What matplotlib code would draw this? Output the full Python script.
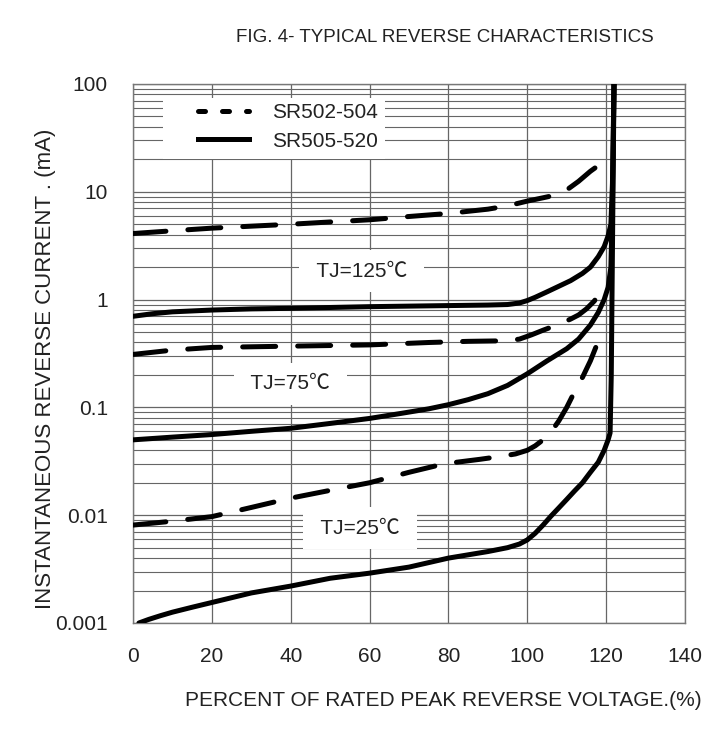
import matplotlib
matplotlib.use("Agg")
import matplotlib.pyplot as plt
from matplotlib.lines import Line2D
from matplotlib.patches import Rectangle
from matplotlib.ticker import LogLocator, NullFormatter, FixedLocator

plt.rcParams['font.family'] = ['Liberation Sans', 'Noto Sans CJK SC', 'DejaVu Sans']

# ---- data ----
x_ticks = [0, 20, 40, 60, 80, 100, 120, 140]
y_ticks = [0.001, 0.01, 0.1, 1, 10, 100]
y_tick_labels = ["0.001", "0.01", "0.1", "1", "10", "100"]

# SR505-520 (solid)
s125_x = [0, 5, 10, 20, 30, 40, 60, 80, 90, 95, 98, 100, 102, 105, 108, 111, 114, 116, 118,
          119.5, 120.5, 121.2, 121.6, 122]
s125_y = [0.70, 0.74, 0.77, 0.80, 0.82, 0.83, 0.86, 0.88, 0.89, 0.90, 0.93, 0.98, 1.05, 1.18,
          1.33, 1.5, 1.75, 2.0, 2.5, 3.1, 3.9, 5, 12, 100]

s75_x = [0, 10, 20, 30, 40, 50, 60, 68, 75, 80, 85, 90, 95, 100, 105, 110, 113, 116, 118,
         119.5, 120.5, 121.2, 121.6, 122]
s75_y = [0.050, 0.053, 0.056, 0.060, 0.064, 0.071, 0.079, 0.088, 0.097, 0.106, 0.118, 0.134,
         0.16, 0.205, 0.27, 0.35, 0.43, 0.58, 0.76, 1.0, 1.3, 2, 8, 100]

s25_x = [1.5, 4, 7, 10, 15, 20, 30, 40, 50, 60, 70, 80, 90, 95, 98, 100, 102, 104, 106, 108,
         110, 112, 114, 116, 118, 119.5, 120.5, 121, 121.3, 121.6, 122]
s25_y = [0.001, 0.00108, 0.00117, 0.00126, 0.0014, 0.00155, 0.0019, 0.0022, 0.0026, 0.0029,
         0.0033, 0.0040, 0.0046, 0.0050, 0.0054, 0.0059, 0.0068, 0.0081, 0.0098, 0.0117, 0.014,
         0.0168, 0.020, 0.025, 0.031, 0.040, 0.050, 0.058, 0.2, 3, 100]

# SR502-504 (dashed)
d125_x = [0, 10, 20, 30, 40, 50, 60, 70, 80, 90, 95, 100, 104, 107, 110, 113, 116, 118, 120]
d125_y = [4.1, 4.35, 4.6, 4.8, 5.0, 5.25, 5.5, 5.9, 6.3, 6.9, 7.4, 8.2, 8.8, 9.3, 10.4, 12.5,
          15.5, 17.5, 20]

d75_x = [0, 10, 20, 30, 40, 60, 75, 85, 95, 98, 101, 104, 108, 111, 113, 115, 117, 119]
d75_y = [0.31, 0.34, 0.36, 0.365, 0.37, 0.38, 0.40, 0.41, 0.415, 0.43, 0.47, 0.52, 0.59, 0.66,
         0.72, 0.82, 0.97, 1.25]

d25_x = [0, 10, 20, 30, 40, 50, 60, 70, 79, 88, 93, 97, 100, 102, 104, 106, 108, 110, 112, 114,
         116, 117.5, 118.5]
d25_y = [0.0081, 0.0088, 0.0097, 0.0118, 0.0144, 0.017, 0.020, 0.025, 0.030, 0.033, 0.035,
         0.037, 0.040, 0.044, 0.050, 0.059, 0.075, 0.10, 0.14, 0.19, 0.27, 0.37, 0.5]

labels = ["SR502-504", "SR505-520"]
tj_labels = ["TJ=125\u2103", "TJ=75\u2103", "TJ=25\u2103"]
tj_pos_x = [58, 40, 57.6]
tj_pos_y = [1.83, 0.166, 0.0076]

# ---- figure ----
W, H = 717, 733
fig = plt.figure(figsize=(W / 100, H / 100), dpi=100)
L, R, T, B = 133, 685, 84, 623
ax = fig.add_axes([L / W, 1 - B / H, (R - L) / W, (B - T) / H])
ax.set_yscale('log')
ax.set_xlim(0, 140)
ax.set_ylim(0.001, 100)

ax.xaxis.set_major_locator(FixedLocator(x_ticks))
ax.yaxis.set_major_locator(FixedLocator(y_ticks))
ax.set_yticklabels(y_tick_labels)
ax.yaxis.set_minor_locator(LogLocator(base=10, subs=range(2, 10), numticks=20))
ax.yaxis.set_minor_formatter(NullFormatter())
ax.tick_params(axis='both', which='both', length=0, labelsize=15, colors='#222222')
ax.tick_params(axis='x', pad=17)
ax.tick_params(axis='y', pad=18)

ax.grid(True, which='major', axis='both', color='#666666', lw=0.9, zorder=0)
ax.grid(True, which='minor', axis='y', color='#666666', lw=0.8, zorder=0)
ax.set_axisbelow(True)
for sp in ax.spines.values():
    sp.set_color('#777777')
    sp.set_linewidth(1.0)

lw = 3.6
dash = (6.6, 4.4)
for xs, ys in [(s125_x, s125_y), (s75_x, s75_y), (s25_x, s25_y)]:
    ax.plot(xs, ys, color='black', lw=lw, solid_capstyle='round', solid_joinstyle='round', zorder=5)
for xs, ys in [(d125_x, d125_y), (d75_x, d75_y), (d25_x, d25_y)]:
    ax.plot(xs, ys, color='black', lw=lw, dashes=dash, dash_capstyle='round',
            dash_joinstyle='round', zorder=5)

# legend area (white box hiding the grid)
ax.add_patch(Rectangle(((163 - L) / (R - L), (B - 159) / (B - T)),
                       (385 - 163) / (R - L), (159 - 98) / (B - T),
                       transform=ax.transAxes, facecolor='white', edgecolor='none', zorder=2))
handles = [Line2D([], [], color='black', lw=lw, dashes=(1.4, 3.4), dash_capstyle='round'),
           Line2D([], [], color='black', lw=lw)]
leg = ax.legend(handles, labels, loc='upper left',
                bbox_to_anchor=((197 - L) / (R - L) - 0.005, (B - 99) / (B - T)),
                frameon=False, fontsize=15, handlelength=2.45, handletextpad=1.1,
                labelspacing=0.45, borderpad=0.2, borderaxespad=0)
for t in leg.get_texts():
    t.set_color('#222222')

for txt, xx, yy in zip(tj_labels, tj_pos_x, tj_pos_y):
    ax.text(xx, yy, " " + txt + " ", fontsize=15, color='#222222', ha='center', va='center', zorder=4,
            bbox=dict(boxstyle='square,pad=0.55', facecolor='white', edgecolor='none'))

fig.text(445 / W, 1 - 38 / H, "FIG. 4- TYPICAL REVERSE CHARACTERISTICS", fontsize=13.5,
         color='#222222', ha='center', va='center')
fig.text(443 / W, 1 - 701 / H, "PERCENT OF RATED PEAK REVERSE VOLTAGE.(%)", fontsize=15,
         color='#222222', ha='center', va='center')
fig.text(46 / W, 1 - 369 / H, "INSTANTANEOUS REVERSE CURRENT . (mA)", fontsize=16,
         color='#222222', ha='center', va='center', rotation=90)

fig.savefig("out.png", dpi=100, facecolor='white')
